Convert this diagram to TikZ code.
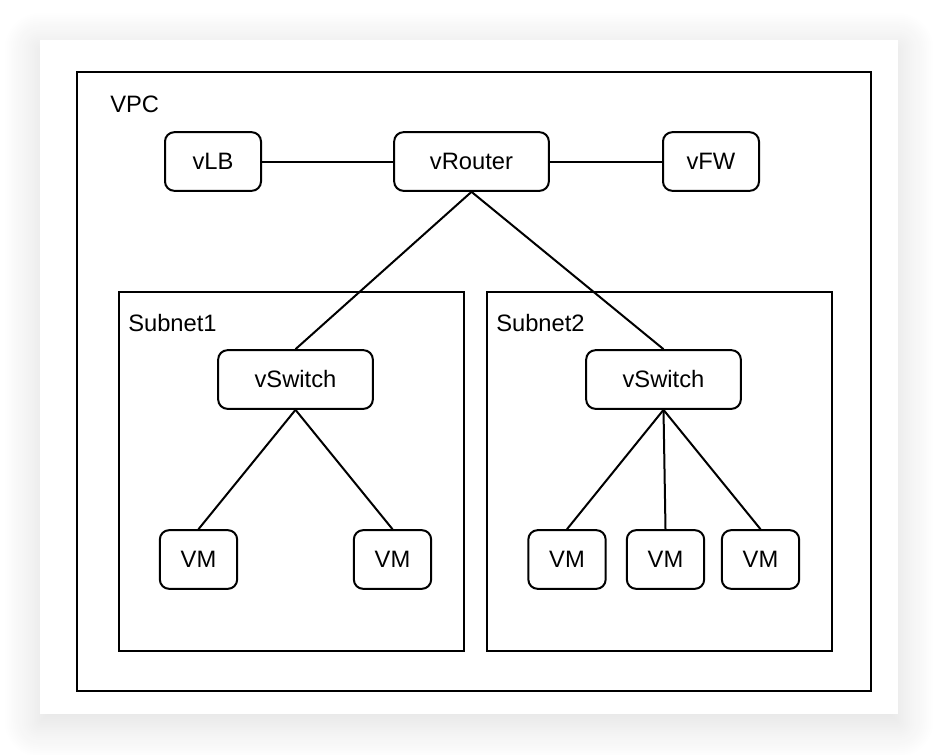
\documentclass[tikz,border=0pt]{standalone}
\usepackage{fontspec}
\setmainfont{Liberation Sans}
\usetikzlibrary{positioning, shadows.blur}

\begin{document}
\begin{tikzpicture}[
    x=0.75pt, y=-0.75pt,
    card/.style={rectangle, fill=white, draw=none, minimum width=643.5pt, minimum height=505.5pt,
        blur shadow={shadow xshift=0pt, shadow yshift=-6pt, shadow blur radius=28pt, shadow blur steps=20, shadow opacity=14}},
    box/.style={rectangle, draw, line width=1.5pt, rounded corners=7pt, minimum width=58pt, minimum height=44pt, align=center, font=\fontsize{17.8}{21}\selectfont},
    area/.style={rectangle, draw, line width=1.5pt, minimum width=258.75pt, minimum height=269.25pt},
    tag/.style={anchor=west, inner sep=0pt, font=\fontsize{17.8}{21}\selectfont},
    link/.style={line width=1.5pt}
]
    \useasboundingbox (0,0) rectangle (938,754);

    % Card and containers
    \node[card] (card) at (469,377) {};
    \node[area, minimum width=595.5pt, minimum height=464.25pt] (vpc) at (474,381.5) {};
    \node[tag] (vpclabel) at (110,104) {VPC};
    \node[area] (subnet1) at (291.5,471.5) {};
    \node[tag] (subnet1label) at (128,323) {Subnet1};
    \node[area] (subnet2) at (659.5,471.5) {};
    \node[tag] (subnet2label) at (496,323) {Subnet2};

    % Top row
    \node[box, minimum width=72pt] (vlb) at (213,161.5) {vLB};
    \node[box, minimum width=116pt] (vrouter) at (471.5,161.5) {vRouter};
    \node[box, minimum width=72pt] (vfw) at (711,161.5) {vFW};

    % Switches
    \node[box, minimum width=116pt] (vswitch1) at (295.5,379.5) {vSwitch};
    \node[box, minimum width=116pt] (vswitch2) at (663.5,379.5) {vSwitch};

    % VMs
    \node[box] (vm1) at (198.5,559.5) {VM};
    \node[box] (vm2) at (392.5,559.5) {VM};
    \node[box] (vm3) at (567,559.5) {VM};
    \node[box] (vm4) at (665.5,559.5) {VM};
    \node[box] (vm5) at (760.5,559.5) {VM};

    % Links
    \draw[link] (vlb) -- (vrouter);
    \draw[link] (vrouter) -- (vfw);
    \draw[link] (vrouter.south) -- (vswitch1.north);
    \draw[link] (vrouter.south) -- (vswitch2.north);
    \draw[link] (vswitch1.south) -- (vm1.north);
    \draw[link] (vswitch1.south) -- (vm2.north);
    \draw[link] (vswitch2.south) -- (vm3.north);
    \draw[link] (vswitch2.south) -- (vm4.north);
    \draw[link] (vswitch2.south) -- (vm5.north);
\end{tikzpicture}
\end{document}
